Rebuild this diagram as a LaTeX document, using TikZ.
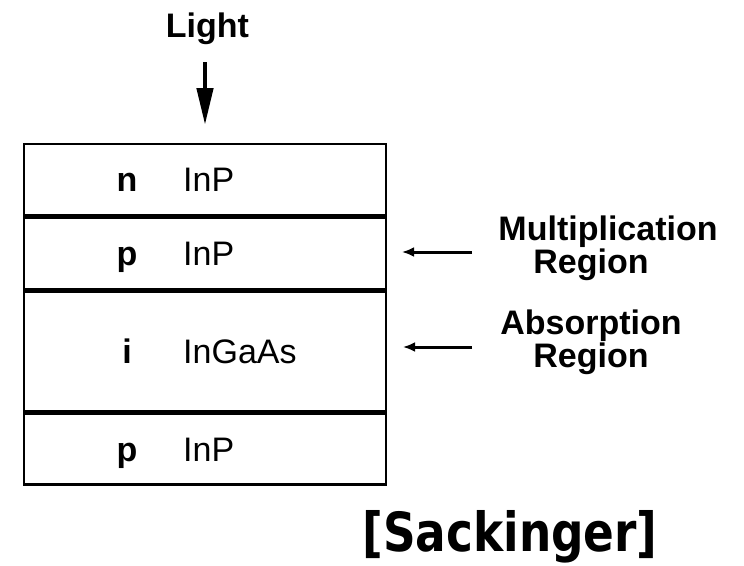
\documentclass[tikz,border=0pt]{standalone}
\usepackage{fontspec}
\setmainfont{Liberation Sans}
\newfontfamily\citefont[FakeStretch=0.84]{DejaVu Sans}
\usetikzlibrary{arrows.meta, positioning}
\tikzset{layer/.style = {draw, line width = 2.5pt, minimum width = 362pt,
                         inner sep = 0pt},
         dopant/.style = {font = \fontsize{34}{34}\selectfont\bfseries,
                          anchor = base, inner sep = 0pt},
         material/.style = {font = \fontsize{34}{34}\selectfont,
                            anchor = base west, inner sep = 0pt},
         region/.style = {font = \fontsize{34}{33}\selectfont\bfseries,
                          align = center, anchor = base, inner sep = 0pt},
         pointer/.style = {-{Latex[length = 12pt, width = 10pt]},
                           line width = 3pt}}

\begin{document}
\begin{tikzpicture}[x = 1pt, y = -1pt]
        \useasboundingbox (0,0) rectangle (744,565);

        % layer stack, top to bottom
        \node[layer, minimum height = 71pt]  (cap)     at (205,179.5) {};
        \node[layer, minimum height = 72pt]  (mult)    [below = 0pt of cap]  {};
        \node[layer, minimum height = 119pt] (absorb)  [below = 0pt of mult] {};
        \node[layer, minimum height = 71pt]  (sub)     [below = 0pt of absorb] {};

        % layer labels
        \foreach \lay/\dop/\mat in {cap/n/InP, mult/p/InP, absorb/i/InGaAs, sub/p/InP}
          {
            \node[dopant]   (\lay-dop) at ([xshift = -78pt, yshift = -12pt]\lay.center) {\dop};
            \node[material] (\lay-mat) at ([xshift = -22pt, yshift = -12pt]\lay.center) {\mat};
          }

        % incoming light
        \node[font = \fontsize{34}{34}\selectfont\bfseries, anchor = base,
              inner sep = 0pt] (light) at (207.5,37) {Light};
        \coordinate (light-top) at (205,62);
        \coordinate (light-tip) at (205,125);
        \draw[line width = 4.5pt, -{Triangle[length = 37pt, width = 16pt]}]
              (light-top) -- (light-tip);

        % region pointers
        \node[region] (mult-txt)   at (608,273) {Multiplication\\Region\hspace*{34pt}};
        \node[region] (absorb-txt) at (591,367) {Absorption\\Region};
        \coordinate (mult-tail)   at (472,252);
        \coordinate (mult-head)   at (402,252);
        \coordinate (absorb-tail) at (472,347);
        \coordinate (absorb-head) at (403,347);
        \draw[pointer] (mult-tail) -- (mult-head);
        \draw[pointer] (absorb-tail) -- (absorb-head);

        % citation
        \node[font = \citefont\fontsize{54}{54}\selectfont\bfseries, anchor = base,
              inner sep = 0pt] (cite) at (510,551) {[Sackinger]};
      \end{tikzpicture}
\end{document}
